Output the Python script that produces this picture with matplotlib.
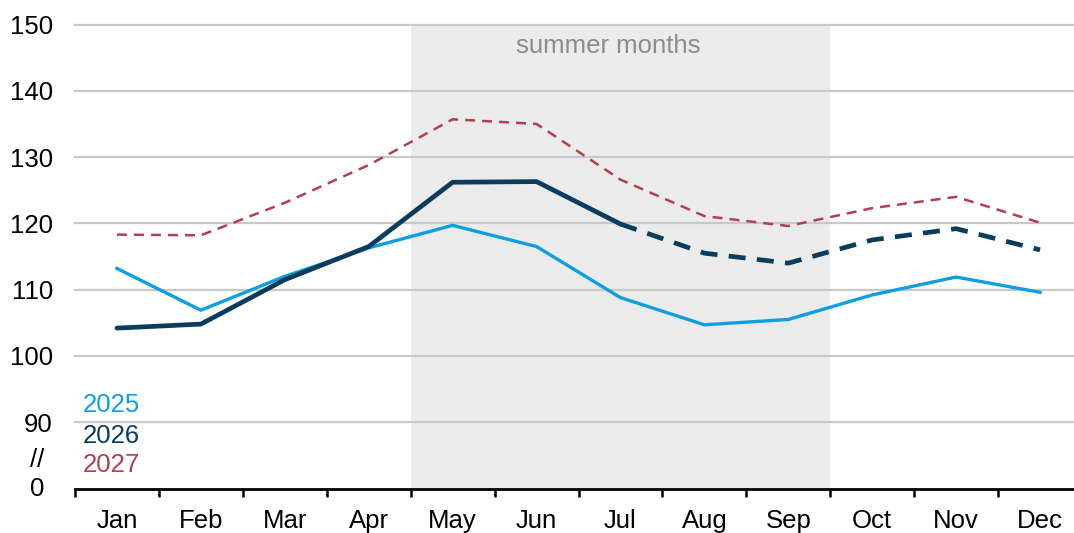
import matplotlib.pyplot as plt

plt.rcParams['font.family'] = ['Liberation Sans', 'DejaVu Sans']

months = ['Jan', 'Feb', 'Mar', 'Apr', 'May', 'Jun', 'Jul', 'Aug', 'Sep', 'Oct', 'Nov', 'Dec']
y2025 = [113.2, 106.9, 112.0, 116.3, 119.7, 116.5, 108.8, 104.7, 105.5, 109.2, 111.9, 109.6]
y2026 = [104.2, 104.8, 111.5, 116.5, 126.2, 126.3, 119.9, 115.5, 114.0, 117.5, 119.2, 116.0]
y2027 = [118.3, 118.2, 123.1, 128.8, 135.7, 135.0, 126.6, 121.1, 119.6, 122.3, 124.0, 120.1]
yticks = [90, 100, 110, 120, 130, 140, 150]
last_actual = 6  # 2026 is solid up to Jul, dashed after

c25 = '#0f9ee0'
c26 = '#0a3d5c'
c27 = '#b23f4d'

fig = plt.figure(figsize=(10.74, 5.33), dpi=100)
ax = fig.add_axes([75 / 1074, 44.5 / 533, 1007 / 1074, 464 / 533])

x = list(range(len(months)))

# summer shading
ax.axvspan(3.5, 8.5, color='#ebebeb', zorder=0, lw=0)
ax.text(5.85, 146.7, 'summer months', color='#8c8c8c', fontsize=18.5,
        ha='center', va='center')

for v in yticks:
    ax.axhline(v, color='#c8c8c8', lw=1.6, zorder=1, clip_on=False)

ax.plot(x, y2027, color=c27, lw=1.8, dashes=(4, 2.8), zorder=3)
ax.plot(x, y2025, color=c25, lw=2.4, zorder=4)
ax.plot(x[:last_actual + 1], y2026[:last_actual + 1], color=c26, lw=3.4,
        zorder=5, solid_capstyle='round')
ax.plot(x[last_actual:], y2026[last_actual:], color=c26, lw=3.4,
        dashes=(3.6, 2.4), zorder=5)

ax.set_xlim(-0.5, 11.5)
ax.set_ylim(80, 150)

ax.set_xticks(x)
ax.set_xticklabels(months, fontsize=18.5)
ax.set_xticks([i - 0.5 for i in range(13)], minor=True)
ax.tick_params(axis='x', which='major', length=0, pad=15)
ax.tick_params(axis='x', which='minor', length=6, width=1.8, color='black')

ax.set_yticks(yticks)
ax.set_yticklabels([str(v) for v in yticks], fontsize=18.5)
ax.tick_params(axis='y', length=0, pad=16)

for s in ['left', 'right', 'top']:
    ax.spines[s].set_visible(False)
ax.spines['bottom'].set_linewidth(2)

# axis break marks
ax.text(-0.87, 80, '0', fontsize=18.5, ha='right', va='center', clip_on=False)
ax.text(-0.95, 84.3, '//', fontsize=18.5, ha='center', va='center',
        clip_on=False)

# legend labels
ax.text(-0.41, 92.6, '2025', color=c25, fontsize=18.5, ha='left', va='center')
ax.text(-0.41, 87.9, '2026', color=c26, fontsize=18.5, ha='left', va='center')
ax.text(-0.41, 83.6, '2027', color=c27, fontsize=18.5, ha='left', va='center')

fig.savefig('out.png', dpi=100)
